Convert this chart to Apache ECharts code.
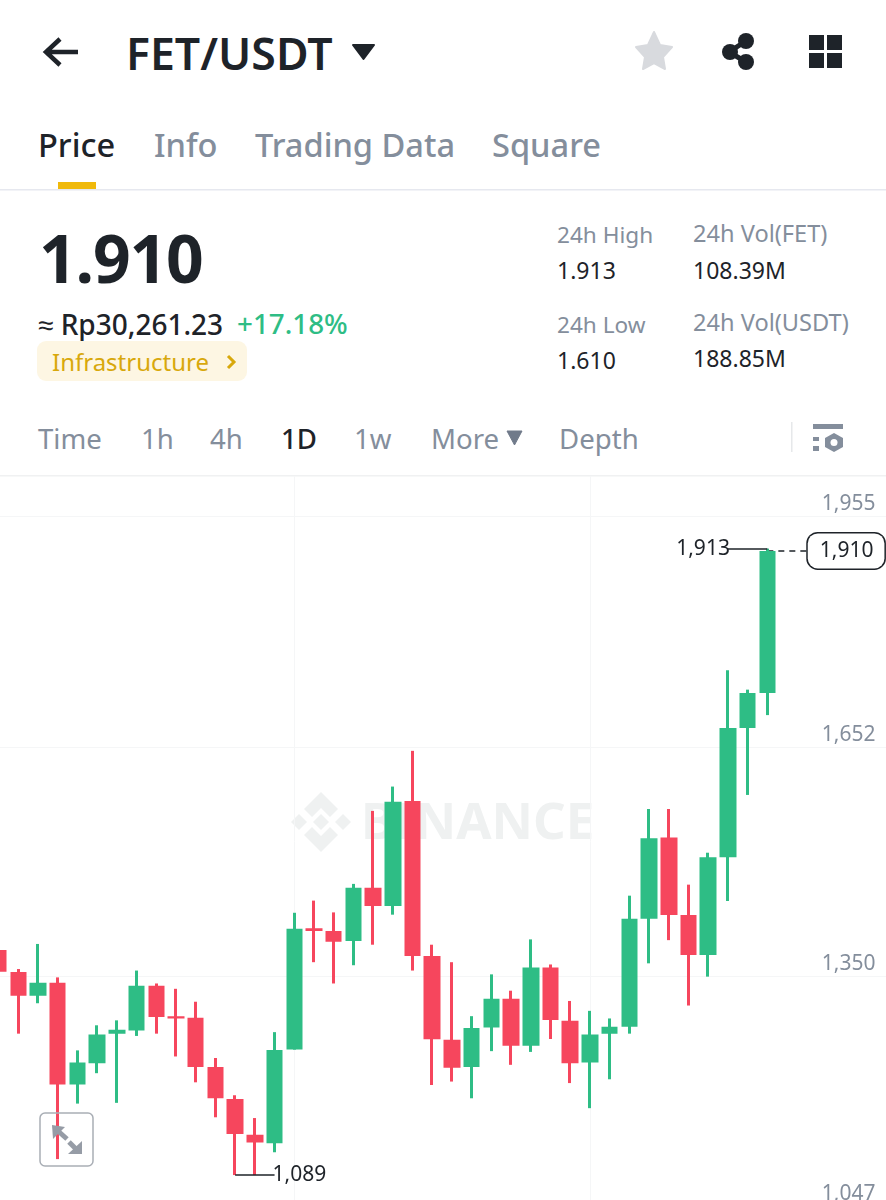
<!DOCTYPE html>
<html>
<head>
<meta charset="utf-8">
<title>FET/USDT</title>
<script src="https://cdn.jsdelivr.net/npm/echarts@6/dist/echarts.min.js"></script>
<style>
html, body { margin: 0; padding: 0; background: #fff; overflow: hidden; }
#page { position: relative; width: 886px; height: 1200px; overflow: hidden; font-family: "Noto Sans", sans-serif; color: #1e2329; }
#chart { position: absolute; left: -20px; top: 476px; width: 926px; height: 731px; }
.t { position: absolute; white-space: nowrap; line-height: 1; transform: translateY(-50%); }
.g { color: #848e9c; }
.m { font-weight: 500; }
.tab { font-size: 32.6px; top: 145px; font-weight: 500; }
.stat { font-size: 23px; }
.lbl { font-size: 23.6px; }
.per { font-size: 27.6px; top: 439px; }
.box { position: absolute; }
svg { position: absolute; overflow: visible; }
</style>
</head>
<body>
<div id="page">
  <svg style="left:0;top:0" width="886" height="476">
    <path d="M78 52H47M60 39L46 52L60 65" fill="none" stroke="#1e2329" stroke-width="4.5"/>
    <path d="M353 45H374L363.5 59Z" fill="#1e2329" stroke="#1e2329" stroke-width="2" stroke-linejoin="round"/>
    <path d="M654 32L660 45L672 47L663 57L665 69L654 63L643 69L645 57L636 47L648 45Z" fill="#d8dade" stroke="#d8dade" stroke-width="2" stroke-linejoin="round"/>
    <path d="M746 41L729 52L746 62" fill="none" stroke="#1e2329" stroke-width="5"/>
    <circle cx="746" cy="41" r="8" fill="#1e2329"/><circle cx="730" cy="52" r="8" fill="#1e2329"/><circle cx="746" cy="62" r="8" fill="#1e2329"/>
    <path d="M809 35h15v15h-15zM827 35h15v15h-15zM809 53h15v15h-15zM827 53h15v15h-15z" fill="#1e2329"/>
    <rect x="58" y="182" width="38" height="7" fill="#f0b90b"/>
    <rect x="0" y="189" width="886" height="1.5" fill="#e6e8ef"/>
    <path d="M507 431H522L514.5 445Z" fill="#707a8a" stroke="#707a8a" stroke-linejoin="round"/>
    <rect x="791" y="422" width="1.5" height="30" fill="#e6e8ea"/>
    <rect x="813" y="424" width="30" height="5" fill="#848e9c"/>
    <path d="M813 437h6v4h-6zM813 446h6v5h-6z" fill="#848e9c"/>
    <path d="M834 433L843 438V447L834 452L825 447V438Z" fill="#848e9c"/><circle cx="834" cy="442.5" r="3.5" fill="#fff"/>
    <rect x="0" y="475" width="886" height="1.5" fill="#f0f1f2"/>
  </svg>

  <div class="t" style="left:126px;top:53px;font-size:44.6px;font-weight:600">FET/USDT</div>
  <div class="t tab" style="left:38px">Price</div>
  <div class="t tab g" style="left:154px">Info</div>
  <div class="t tab g" style="left:255px">Trading Data</div>
  <div class="t tab g" style="left:492px">Square</div>

  <div class="t" style="left:39px;top:257px;font-size:66px;font-weight:700;letter-spacing:-1.2px">1.910</div>
  <div class="t m" style="left:38px;top:324px;font-size:28px">≈ Rp30,261.23</div>
  <div class="t m" style="left:237px;top:324px;font-size:27.8px;color:#2ebd85">+17.18%</div>
  <div class="box" style="left:37px;top:341px;width:210px;height:40px;background:#fdf6e3;border-radius:9px"></div>
  <div class="t" style="left:52px;top:362px;font-size:24px;color:#d8a80c">Infrastructure</div>
  <svg style="left:0;top:0" width="886" height="476"><path d="M228 356L234 362L228 368" fill="none" stroke="#d8a80c" stroke-width="3"/></svg>

  <div class="t lbl g" style="left:557px;top:235px;font-size:22.6px">24h High</div>
  <div class="t stat" style="left:557px;top:270px">1.913</div>
  <div class="t lbl g" style="left:693px;top:234px">24h Vol(FET)</div>
  <div class="t stat" style="left:693px;top:270px">108.39M</div>
  <div class="t lbl g" style="left:557px;top:325px;font-size:22.6px">24h Low</div>
  <div class="t stat" style="left:557px;top:360px">1.610</div>
  <div class="t lbl g" style="left:693px;top:323px">24h Vol(USDT)</div>
  <div class="t stat" style="left:693px;top:358px">188.85M</div>

  <div class="t per g" style="left:38px">Time</div>
  <div class="t per g" style="left:141px">1h</div>
  <div class="t per g" style="left:210px">4h</div>
  <div class="t per m" style="left:281px">1D</div>
  <div class="t per g" style="left:354px">1w</div>
  <div class="t per g" style="left:431px">More</div>
  <div class="t per g" style="left:559px">Depth</div>

  <div id="chart"></div>

  <svg style="left:0;top:0;pointer-events:none" width="886" height="1200">
    <rect x="40" y="1113" width="53" height="53" rx="5" fill="none" stroke="#a9aeb5" stroke-width="1.5"/>
    <path d="M52 1125L65 1127L53 1139Z" fill="#969ca6"/>
    <path d="M58 1131L67 1139" stroke="#969ca6" stroke-width="5"/>
    <path d="M82 1154H68L82 1141Z" fill="#969ca6"/>
    <path d="M69 1142L76 1149" stroke="#969ca6" stroke-width="5"/>
  </svg>
</div>

<script>
// daily candles, oldest first
const opens  = [1385,1356,1325,1342,1208,1236,1275,1279,1338,1298,1296,1231,1189,1142,1131,1254,1413.5,1410,1397,1467,1443,1581,1377,1267,1231,1283,1321,1259,1362,1292,1237,1275,1284,1426,1533,1431,1378.5,1507,1677,1723]
const closes = [1356.5,1325,1342,1208,1237,1274,1280,1338,1297,1295,1231,1190,1143,1132,1253.5,1413,1410,1396,1467,1443,1580,1377,1267.5,1230,1282.5,1321,1259,1362,1293,1236,1274,1284,1426,1532,1431,1378.5,1507,1677,1723,1910]
const lows   = [1356,1275,1315,1110,1183,1223,1184,1272,1275,1245,1211,1165,1089,1089,1119,1254,1369,1341,1365,1392,1431.5,1358,1207.5,1212,1190,1252,1234,1251,1268,1210,1177,1215,1275,1367.5,1398,1312,1350,1449.5,1589,1694]
const highs  = [1385,1360,1393,1349,1253,1286,1292.5,1358,1341,1334,1317,1243,1194,1164,1277,1434,1450,1434.5,1472,1568,1600,1647,1392,1369,1298,1353,1331.5,1399,1366,1318,1305,1295,1456.5,1570.5,1570.5,1471,1513,1753,1727.5,1913]
const priceTicks = [1047, 1350, 1652, 1955]
const dayTicks = [15, 30]
const emptyDays = 6 // free room right of the last candle
const lastPrice = 1910
const dayHigh = 1913
const dayLow = 1089

const days = []
for (let i = 0; i < opens.length + emptyDays; i++) days.push('d' + i)
const candles = opens.map((o, i) => [o, closes[i], lows[i], highs[i]])

const up = '#2ebd85'
const down = '#f6465d'
const ink = '#1e2329'
const fmt = v => Number(v).toLocaleString('en-US')
const font = '"Noto Sans", sans-serif'

// the div is a bit wider than the page so the first candle can hang off the left edge
let myChart = echarts.init(document.getElementById('chart'), null, { renderer: 'canvas' })

// short horizontal leader from the extreme candle to its label
function leader(fromDay, toDay, price) {
    return [
        { coord: [fromDay, price] },
        { coord: [toDay, price], label: { formatter: fmt(price) } }
    ]
}

option = {
    animation: false,
    backgroundColor: 'transparent',
    grid: { left: 8.75, top: 0, width: 906.7, height: 731 },
    xAxis: {
        type: 'category',
        data: days,
        axisLine: { show: false },
        axisLabel: { show: false },
        axisTick: { show: false, alignWithLabel: true, customValues: dayTicks },
        splitLine: { show: true, alignWithLabel: true, lineStyle: { color: '#f5f6f7', width: 1 } }
    },
    yAxis: {
        type: 'value',
        position: 'right',
        min: 1047,
        max: 2008.5,
        axisLine: { show: false },
        axisTick: { show: false, customValues: priceTicks },
        splitLine: { show: true, lineStyle: { color: '#f5f6f7', width: 1 } },
        axisLabel: {
            inside: true,
            customValues: priceTicks,
            margin: 20,
            color: '#848e9c',
            fontFamily: font,
            fontSize: 21,
            verticalAlign: 'bottom',
            padding: [0, 0, 2, 0],
            formatter: fmt
        }
    },
    graphic: [
        {
            type: 'text', left: 381, top: 323,
            style: { text: 'BINANCE', font: '700 51px ' + font, fill: '#eff1f1' }
        },
        {
            type: 'group', left: 311, top: 316,
            children: [
                { type: 'polygon', shape: { points: [[30, 0], [47, 17], [39, 25], [30, 16], [21, 25], [13, 17]] }, style: { fill: '#eff1f1' } },
                { type: 'polygon', shape: { points: [[30, 60], [47, 43], [39, 35], [30, 44], [21, 35], [13, 43]] }, style: { fill: '#eff1f1' } },
                { type: 'polygon', shape: { points: [[30, 22], [38, 30], [30, 38], [22, 30]] }, style: { fill: '#eff1f1' } },
                { type: 'polygon', shape: { points: [[8, 22], [16, 30], [8, 38], [0, 30]] }, style: { fill: '#eff1f1' } },
                { type: 'polygon', shape: { points: [[52, 22], [60, 30], [52, 38], [44, 30]] }, style: { fill: '#eff1f1' } }
            ]
        }
    ],
    series: [
        {
            // wicks only, bodies come from the series below
            type: 'candlestick',
            data: candles,
            barWidth: 1,
            itemStyle: { color: up, color0: down, borderColor: up, borderColor0: down, borderWidth: 3 },
            markLine: {
                silent: true,
                symbol: 'none',
                z: 1,
                animation: false,
                lineStyle: { color: ink, type: [6, 5], width: 1.5 },
                label: {
                    position: 'end',
                    formatter: fmt(lastPrice),
                    distance: 1,
                    color: ink,
                    fontFamily: font,
                    fontSize: 21,
                    backgroundColor: '#fff',
                    borderColor: ink,
                    borderWidth: 1.5,
                    borderRadius: 10,
                    padding: [7, 11, 7, 12]
                },
                data: [leader(39, 41, lastPrice)]
            }
        },
        {
            type: 'candlestick',
            data: candles,
            barWidth: 17,
            itemStyle: { color: up, color0: down, borderColor: up, borderColor0: down, borderWidth: 0 },
            markLine: {
                silent: true,
                symbol: 'none',
                animation: false,
                lineStyle: { color: ink, type: 'solid', width: 1.5 },
                label: { position: 'end', color: ink, fontFamily: font, fontSize: 21, distance: -2 },
                data: [leader(39, 37, dayHigh), leader(12, 14, dayLow)]
            }
        }
    ]
}
myChart.setOption(option)
</script>
</body>
</html>
